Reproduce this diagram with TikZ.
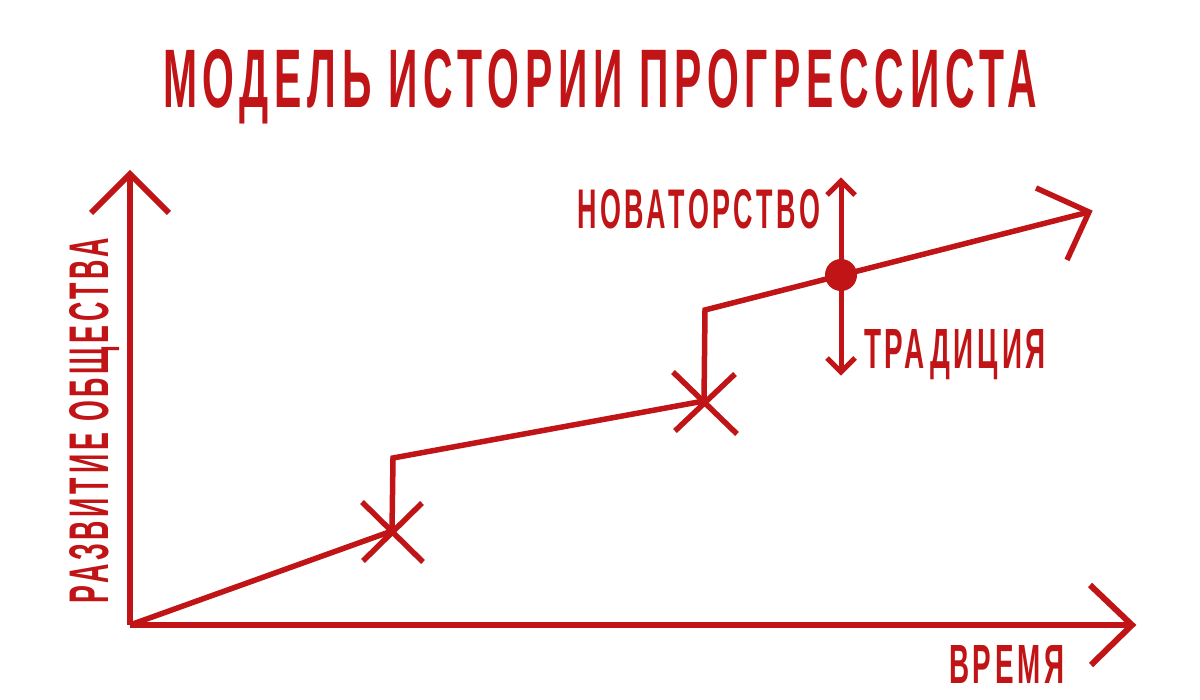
\documentclass[tikz,border=0pt]{standalone}
\usepackage{graphicx}
\usepackage{fontspec}
\usetikzlibrary{calc}
\setmainfont{Liberation Sans}
\newfontfamily\spacedfont[LetterSpace=14]{Liberation Sans}
\definecolor{brand}{RGB}{192,20,22}
\newcommand{\fitxt}[3]{\resizebox{#1pt}{#2pt}{\spacedfont\bfseries #3}}
\begin{document}
\begin{tikzpicture}[x=1pt,y=-1pt,
  lbl/.style={inner sep=0pt, outer sep=0pt, text=brand, anchor=base west},
  axisline/.style={draw=brand, line width=6pt, line cap=butt, line join=miter},
  curve/.style={draw=brand, line width=5.5pt, line cap=butt, line join=miter},
  thinarrow/.style={draw=brand, line width=5pt, line cap=butt, line join=miter},
  cross/.style={draw=brand, line width=5.5pt, line cap=butt}]
\useasboundingbox (0,0) rectangle (1200,700);
\fill[white] (0,0) rectangle (1200,700);
% title
\node[lbl] (title) at (163,108) {\fitxt{874}{58}{МОДЕЛЬ ИСТОРИИ ПРОГРЕССИСТА}};
% axes
\coordinate (O) at (130,625);
\coordinate (ytip) at (130,174);
\coordinate (xtip) at (1132,625);
\draw[axisline] (O) -- (ytip);
\draw[axisline] (91,213) -- (ytip) -- (169,213);
\draw[axisline] (O) -- (xtip);
\draw[axisline] (1090,585) -- (xtip) -- (1091,665);
\node[lbl, rotate=90] (ylab) at (108,603) {\fitxt{365}{39}{РАЗВИТИЕ ОБЩЕСТВА}};
\node[lbl] (xlab) at (949,683) {\fitxt{116}{38}{ВРЕМЯ}};
% progress curve
\coordinate (x1) at (392,531);
\coordinate (c1) at (393,458);
\coordinate (x2) at (704,401);
\coordinate (c2) at (705,310);
\coordinate (tip) at (1089,212);
\draw[curve] (O) -- (x1) -- (c1) -- (x2) -- (c2) -- (tip);
\draw[curve] (1036,188) -- (tip) -- (1067,260);
% crosses
\draw[cross] ($(x1)+(-30,-29)$) -- ($(x1)+(31,31)$);
\draw[cross] ($(x1)+(30,-28)$) -- ($(x1)+(-29,30)$);
\draw[cross] ($(x2)+(-31,-29)$) -- ($(x2)+(33,33)$);
\draw[cross] ($(x2)+(31,-27)$) -- ($(x2)+(-29,30)$);
% dot and double arrow
\coordinate (dot) at (841,275);
\coordinate (up) at (841,181);
\coordinate (down) at (841,372);
\draw[thinarrow] (up) -- (down);
\draw[thinarrow] (827,195) -- (up) -- (855,195);
\draw[thinarrow] (827,358) -- (down) -- (855,358);
\fill[brand] (dot) circle (16);
\node[lbl] (nov) at (577,229) {\fitxt{243}{39}{НОВАТОРСТВО}};
\node[lbl] (trad) at (864,369) {\fitxt{182}{39}{ТРАДИЦИЯ}};
\end{tikzpicture}
\end{document}
